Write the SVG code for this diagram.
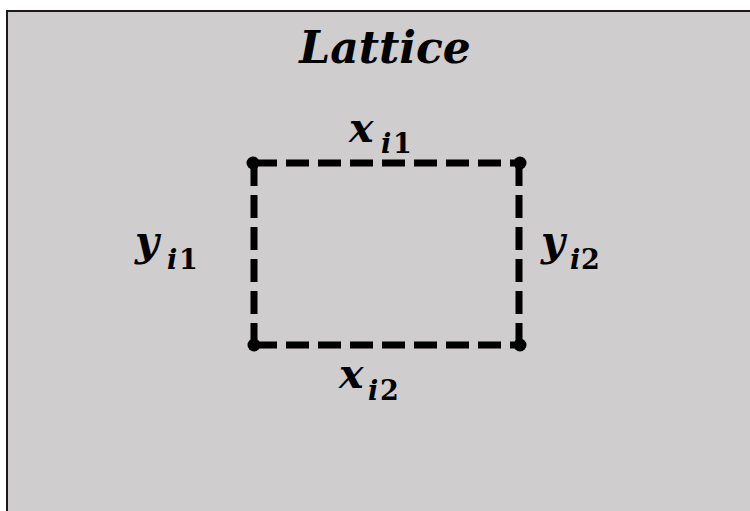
<svg xmlns="http://www.w3.org/2000/svg" width="750" height="511" viewBox="0 0 750 511">
  <style>
    .edge { stroke: #000; stroke-width: 7; stroke-dasharray: 23 9; fill: none; }
    .dot { fill: #000; }
    .math { font-family: "DejaVu Serif", "Liberation Serif", serif; font-weight: bold; font-style: italic; fill: #000; }
    .main { font-size: 41px; }
    .sub { font-size: 27px; }
    .upr { font-style: normal; }
  </style>
  <rect x="0" y="0" width="750" height="511" fill="#ffffff"/>
  <rect id="frame" x="7" y="11" width="760" height="520" fill="#cfcdce" stroke="#1a1a1a" stroke-width="2"/>
  <text id="title" class="math" x="385" y="63" font-size="44" text-anchor="middle">Lattice</text>

  <g id="connectors">
    <line class="edge" x1="254" y1="163" x2="519" y2="163"/>
    <line class="edge" x1="254" y1="345" x2="519" y2="345"/>
    <line class="edge" x1="254" y1="163" x2="254" y2="345"/>
    <line class="edge" x1="519" y1="163" x2="519" y2="345"/>
  </g>

  <g id="corner-tl"><circle class="dot" cx="253" cy="163" r="6.5"/></g>
  <g id="corner-tr"><circle class="dot" cx="520" cy="163" r="6.5"/></g>
  <g id="corner-bl"><circle class="dot" cx="254" cy="345" r="6.5"/></g>
  <g id="corner-br"><circle class="dot" cx="520" cy="345" r="6.5"/></g>

  <g id="label-x1">
    <text class="math main" x="349" y="142">x<tspan class="sub" x="381" y="153">i</tspan><tspan class="sub upr" x="393" y="153">1</tspan></text>
  </g>
  <g id="label-y1">
    <text class="math main" x="135" y="255">y<tspan class="sub" x="167" y="269">i</tspan><tspan class="sub upr" x="179" y="269">1</tspan></text>
  </g>
  <g id="label-y2">
    <text class="math main" x="541" y="255">y<tspan class="sub" x="570" y="269">i</tspan><tspan class="sub upr" x="581" y="269">2</tspan></text>
  </g>
  <g id="label-x2">
    <text class="math main" x="339" y="388">x<tspan class="sub" x="368" y="400">i</tspan><tspan class="sub upr" x="380" y="400">2</tspan></text>
  </g>
</svg>
